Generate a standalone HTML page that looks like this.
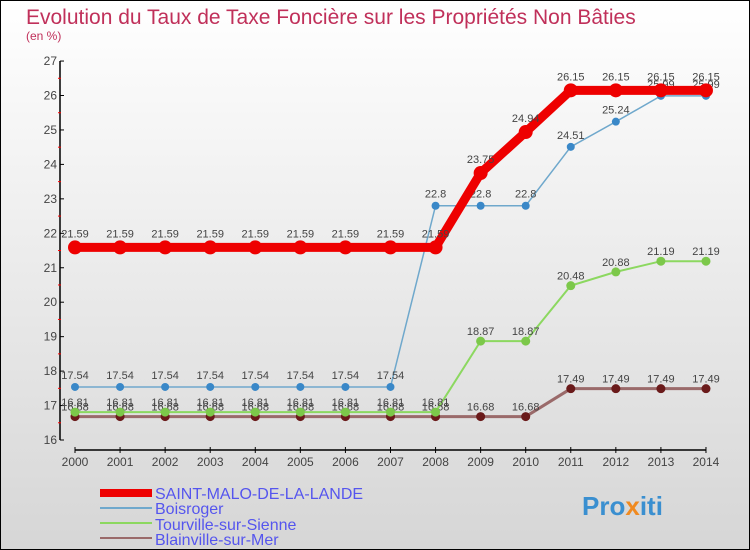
<!DOCTYPE html>
<html><head><meta charset="utf-8"><style>
body{margin:0}
svg{display:block;font-family:"Liberation Sans",sans-serif}
</style></head><body>
<svg width="750" height="550" viewBox="0 0 750 550">
<defs><linearGradient id="bg" x1="0" y1="0" x2="0" y2="1"><stop offset="0" stop-color="#ffffff"/><stop offset="1" stop-color="#d6d6d6"/></linearGradient></defs>
<rect x="0.5" y="0.5" width="749" height="549" fill="url(#bg)" stroke="#000"/>
<text x="26" y="24" font-size="21" fill="#c0305a">Evolution du Taux de Taxe Foncière sur les Propriétés Non Bâties</text>
<text x="26" y="40" font-size="12" fill="#c0305a">(en %)</text>
<g id="axes"></g>
<g id="series"></g>
<g id="legend" font-size="16" fill="#5555ee">
<rect x="100" y="489" width="52" height="8" fill="#e00"/>
<text x="155" y="499">SAINT-MALO-DE-LA-LANDE</text>
<rect x="100" y="507" width="52" height="2" fill="#6fa8cc"/>
<text x="155" y="514">Boisroger</text>
<rect x="100" y="522" width="52" height="2" fill="#8cd860"/>
<text x="155" y="530">Tourville-sur-Sienne</text>
<rect x="100" y="537" width="52" height="2" fill="#9a6a6a"/>
<text x="155" y="545">Blainville-sur-Mer</text>
</g>
<text x="582" y="515" font-size="26" font-weight="bold" fill="#3a8fd0">Pro<tspan fill="#f08a20">x</tspan>iti</text>
</svg>
<script>
const years=[2000,2001,2002,2003,2004,2005,2006,2007,2008,2009,2010,2011,2012,2013,2014];
const yTicks=[16,17,18,19,20,21,22,23,24,25,26,27];
const saintMalo=[21.59,21.59,21.59,21.59,21.59,21.59,21.59,21.59,21.59,23.75,24.94,26.15,26.15,26.15,26.15];
const boisroger=[17.54,17.54,17.54,17.54,17.54,17.54,17.54,17.54,22.8,22.8,22.8,24.51,25.24,25.99,25.99];
const tourville=[16.81,16.81,16.81,16.81,16.81,16.81,16.81,16.81,16.81,18.87,18.87,20.48,20.88,21.19,21.19];
const blainville=[16.68,16.68,16.68,16.68,16.68,16.68,16.68,16.68,16.68,16.68,16.68,17.49,17.49,17.49,17.49];
const NS="http://www.w3.org/2000/svg";
const X=i=>75+i*45.07;
const Y=v=>440-(v-16)*34.45;
function mk(tag,at,parent){const e=document.createElementNS(NS,tag);for(const k in at)e.setAttribute(k,at[k]);parent.appendChild(e);return e;}
const ax=document.getElementById('axes');
let yl=mk('line',{x1:60,y1:Y(27),x2:60,y2:Y(16),stroke:'#000','stroke-width':1.5},ax);


yTicks.forEach(t=>{
 mk('line',{x1:60,y1:Y(t),x2:64,y2:Y(t),stroke:'#000'},ax);
 if(t<27)mk('line',{x1:58,y1:Y(t+0.5),x2:61,y2:Y(t+0.5),stroke:'#f00'},ax);
 const tx=mk('text',{x:57,y:Y(t)+4,'font-size':12,'text-anchor':'end',fill:'#444'},ax);
 tx.textContent=t;
 
 
});
let xl=mk('line',{x1:X(0),y1:450,x2:X(14),y2:450,stroke:'#000','stroke-width':1.5},ax);


years.forEach((yr,i)=>{
 mk('line',{x1:X(i),y1:447,x2:X(i),y2:453,stroke:'#000'},ax);
 const tx=mk('text',{x:X(i),y:466,'font-size':12,'text-anchor':'middle',fill:'#444'},ax);
 tx.textContent=yr;
 
 
});
const sg=document.getElementById('series');
function series(vals,name,color,dot,lw,r,dy){
 const g=mk('g',{},sg);
 
 
 const pts=vals.map((v,i)=>X(i)+','+Y(v)).join(' ');
 mk('polyline',{points:pts,fill:'none',stroke:color,'stroke-width':lw},g);
 vals.forEach((v,i)=>{
  const c=mk('circle',{cx:X(i),cy:Y(v),r:r,fill:dot},g);
  
  
  const t=mk('text',{x:X(i),y:Y(v)+dy,'font-size':11,'text-anchor':'middle',fill:'#444'},g);
  t.textContent=String(v).replace('.', '.');
  
  
 });
}
series(blainville,'blainville','#9a6a6a','#6a1a1a',3,4.5,-6);
series(tourville,'tourville','#8cd860','#7cc84a',2,4.5,-6);
series(boisroger,'boisroger','#6fa8cc','#3a88c8',1.5,4,-8);
series(saintMalo,'saint-malo','#ee0000','#ee0000',9,7,-10);
</script>
</body></html>
